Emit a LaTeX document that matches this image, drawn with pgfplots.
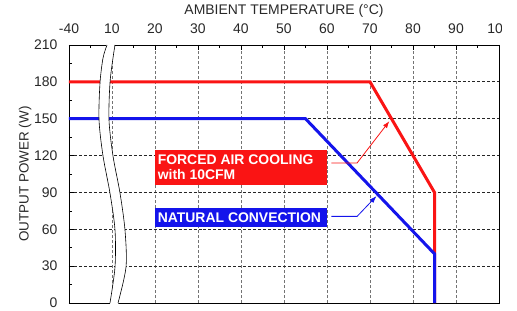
\documentclass[border=0pt]{standalone}
\usepackage{fontspec}
\setmainfont{Liberation Sans}
\usepackage{pgfplots}
\pgfplotsset{compat=1.18}
\usetikzlibrary{arrows.meta}
\definecolor{tk}{RGB}{40,40,40}
\definecolor{myred}{RGB}{250,20,20}
\definecolor{myblue}{RGB}{20,20,235}
\begin{document}
\begin{tikzpicture}
\path[use as bounding box] (-69bp,-8bp) rectangle (448bp,303bp);
\begin{axis}[
  at={(0,0)}, anchor=south west,
  scale only axis, width=430bp, height=258bp,
  xmin=0, xmax=10, ymin=0, ymax=210,
  xtick={0,1,...,10},
  xticklabels={-40,10,20,30,40,50,60,70,80,90,100},
  minor x tick num=1,
  ytick={0,30,...,210},
  minor y tick num=1,
  xtick pos=upper, xticklabel pos=upper,
  ytick pos=left,
  major tick length=5bp, minor tick length=3bp,
  tick align=inside,
  grid=major,
  x grid style={densely dashed, black!55, line width=0.8pt},
  y grid style={densely dashed, black!85, line width=0.8pt},
  axis line style={black, line width=0.8pt},
  tick style={black, line width=0.6pt},
  ticklabel style={font=\fontsize{14}{16}\selectfont, text=tk},
  /pgf/number format/assume math mode=true,
  xticklabel style={yshift=8bp},
  yticklabel style={xshift=-8bp},
  xlabel={AMBIENT TEMPERATURE (\textdegree C)},
  xlabel style={font=\fontsize{14}{16}\selectfont, text=tk, yshift=-1bp},
  ylabel={OUTPUT POWER (W)},
  ylabel style={font=\fontsize{13.5}{15}\selectfont, text=tk, yshift=-4bp},
  clip=false,
]
\addplot[myred, line width=3bp, line join=miter] coordinates {(0,180) (7,180) (8.5,90) (8.5,0)};
\addplot[myblue, line width=3bp, line join=miter] coordinates {(0,150) (5.5,150) (8.5,40) (8.5,0)};
% axis break
\fill[white] plot[smooth] coordinates {(0.884,211.5) (0.791,199.4) (0.721,179.1) (0.698,149.0) (0.791,119.7) (0.953,89.5) (1.070,59.4) (1.070,29.3) (0.953,-1.5)}
  -- plot[smooth] coordinates {(1.140,-1.5) (1.326,29.3) (1.302,59.4) (1.186,89.5) (1.023,119.7) (0.930,149) (0.953,179.1) (1.023,199.4) (1.070,211.5)} -- cycle;
\draw[black, line width=0.6pt] plot[smooth] coordinates {(0.884,210) (0.791,199.4) (0.721,179.1) (0.698,149.0) (0.791,119.7) (0.953,89.5) (1.070,59.4) (1.070,29.3) (0.953,0)};
\draw[black, line width=0.6pt] plot[smooth] coordinates {(1.070,210) (1.023,199.4) (0.953,179.1) (0.930,149) (1.023,119.7) (1.186,89.5) (1.302,59.4) (1.326,29.3) (1.140,0)};
% labels
\fill[myred] (axis cs:2,96.1) rectangle (axis cs:6,124.6);
\node[anchor=west, align=left, text=white, font=\fontsize{14}{15}\bfseries, inner sep=0pt] at (axis cs:2.06,110.3) {FORCED AIR COOLING\\with 10CFM};
\fill[myblue] (axis cs:2,61.9) rectangle (axis cs:6,77.4);
\node[anchor=west, text=white, font=\fontsize{14}{15}\bfseries, inner sep=0pt] at (axis cs:2.06,69.6) {NATURAL CONVECTION};
\draw[myred, line width=0.8pt, -{Latex[length=7bp,width=5bp]}] (axis cs:6.1,114) -- (axis cs:6.7,114) -- (axis cs:7.45,148);
\draw[myblue, line width=0.8pt, -{Latex[length=7bp,width=5bp]}] (axis cs:6.1,70.5) -- (axis cs:6.7,70.5) -- (axis cs:7.15,87);
\end{axis}
% the reference picture is cut off just right of the last tick label digits
\fill[white] (433bp,262bp) rectangle (449bp,306bp);
\end{tikzpicture}
\end{document}
